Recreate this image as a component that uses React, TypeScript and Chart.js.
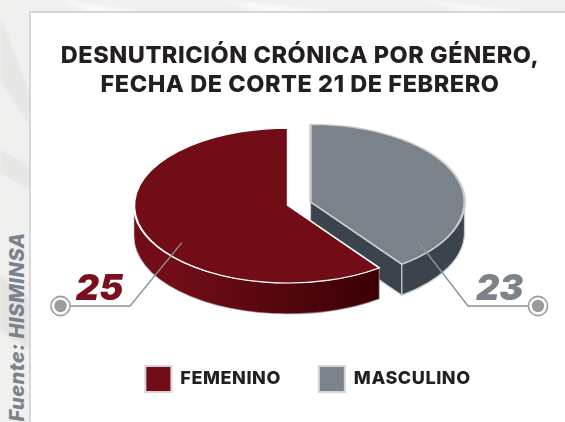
import React, { useEffect, useRef } from "react";
import { Chart, registerables } from "chart.js";

Chart.register(...registerables);

// Categories and the counts printed beside the slices.
const categories = ["FEMENINO", "MASCULINO"];
const printedCounts = [25, 23];
// The reference draws the slices at about 60/40 rather than 25/23, so the
// angles are read from the picture and kept apart from the printed counts.
const drawnShares = [60.1, 39.9];
const titleLines = ["DESNUTRICIÓN CRÓNICA POR GÉNERO,", "FECHA DE CORTE 21 DE FEBRERO"];
const sourceText = "Fuente: HISMINSA";

const faceColors = ["#720d18", "#7b838a"];
const edgeColors = ["#ffffff", "#c9cccd"];
const labelColors = ["#7a0f1d", "#7b838a"];
const explode = [0, 23.7];
const LEADER = "#8f9295";
const SQUASH = 0.503;
const DEPTH = 31;
const TRACKING = "0.55px";

const wallFill = (ctx: CanvasRenderingContext2D, i: number) => {
  if (i === 1) return "#3b444c";
  const g = ctx.createLinearGradient(170, 0, 380, 0);
  g.addColorStop(0, "#720d18");
  g.addColorStop(1, "#3a0004");
  return g;
};

const pie3d = {
  id: "pie3d",
  beforeLayout(chart: any) {
    chart.ctx.letterSpacing = TRACKING;
  },
  afterLayout(chart: any) {
    chart.legend.left += 20;
    chart.legend.right += 20;
    chart.legend.top += 16;
    chart.legend.bottom += 16;
    chart.titleBlock.left += 12;
    chart.titleBlock.right += 12;
  },
  beforeDraw(chart: any) {
    chart.ctx.letterSpacing = TRACKING;
  },
  beforeDatasetDraw(chart: any, args: any) {
    const ctx: CanvasRenderingContext2D = chart.ctx;
    const arcs = args.meta.data;
    const shift = (i: number) => {
      const a = arcs[i];
      const mid = (a.startAngle + a.endAngle) / 2;
      return { dx: Math.cos(mid) * explode[i], dy: Math.sin(mid) * explode[i] };
    };
    [1, 0].forEach((i) => {
      const a = arcs[i];
      const { dx, dy } = shift(i);
      const cx = a.x + dx;
      const cy = a.y + dy * SQUASH;
      const rx = a.outerRadius;
      const ry = rx * SQUASH;
      ctx.save();
      ctx.fillStyle = wallFill(ctx, i);
      ctx.strokeStyle = i === 1 ? "#c9cccd" : "rgba(190,190,190,0.55)";
      ctx.lineWidth = 1.2;
      const cutFace = (t: number) => {
        const x = cx + Math.cos(t) * rx;
        const y = cy + Math.sin(t) * ry;
        ctx.beginPath();
        ctx.moveTo(cx, cy);
        ctx.lineTo(x, y);
        ctx.lineTo(x, y + DEPTH);
        ctx.lineTo(cx, cy + DEPTH);
        ctx.closePath();
        ctx.fill();
        ctx.stroke();
      };
      if (Math.cos(a.endAngle) > 0.001) cutFace(a.endAngle);
      if (Math.cos(a.startAngle) < -0.001) cutFace(a.startAngle);
      [0, 2 * Math.PI].forEach((turn) => {
        const lo = Math.max(a.startAngle, turn);
        const hi = Math.min(a.endAngle, turn + Math.PI);
        if (hi <= lo) return;
        ctx.beginPath();
        ctx.ellipse(cx, cy, rx, ry, 0, lo, hi, false);
        ctx.ellipse(cx, cy + DEPTH, rx, ry, 0, hi, lo, true);
        ctx.closePath();
        ctx.fill();
        ctx.stroke();
      });
      ctx.restore();
    });
    // Top faces: each arc is drawn by the library under a flattening transform.
    [0, 1].forEach((i) => {
      const a = arcs[i];
      const { dx, dy } = shift(i);
      ctx.save();
      ctx.translate(a.x + dx, a.y + dy * SQUASH);
      ctx.scale(1, SQUASH);
      ctx.translate(-a.x, -a.y);
      a.draw(ctx);
      ctx.restore();
    });
    return false;
  },
  afterDraw(chart: any) {
    const ctx: CanvasRenderingContext2D = chart.ctx;
    const arcs = chart.getDatasetMeta(0).data;
    const sets = [
      { frac: 0.423, rad: 0.84, elbow: 130, end: 70, dot: 60.5, textX: 99.5 },
      { frac: 0.88, rad: 0.87, elbow: 468, end: 528, dot: 538, textX: 499.7 },
    ];
    const rowY = 306;
    sets.forEach((s, i) => {
      const a = arcs[i];
      const mid = (a.startAngle + a.endAngle) / 2;
      const t = a.startAngle + (a.endAngle - a.startAngle) * s.frac;
      const px = a.x + Math.cos(mid) * explode[i] + Math.cos(t) * a.outerRadius * s.rad;
      const py = a.y + (Math.sin(mid) * explode[i] + Math.sin(t) * a.outerRadius * s.rad) * SQUASH;
      ctx.save();
      ctx.strokeStyle = LEADER;
      ctx.lineWidth = 1.4;
      ctx.beginPath();
      ctx.moveTo(px, py);
      ctx.lineTo(s.elbow, rowY);
      ctx.lineTo(s.end, rowY);
      ctx.stroke();
      ctx.strokeStyle = "#9a9da0";
      ctx.lineWidth = 1.6;
      ctx.beginPath();
      ctx.arc(s.dot, rowY, 9.6, 0, Math.PI * 2);
      ctx.stroke();
      ctx.fillStyle = "#9a9da0";
      ctx.beginPath();
      ctx.arc(s.dot, rowY, 6.2, 0, Math.PI * 2);
      ctx.fill();
      ctx.fillStyle = labelColors[i];
      (ctx as any).letterSpacing = "0px";
      ctx.font = "italic 900 36px Inter, sans-serif";
      ctx.textAlign = "center";
      ctx.textBaseline = "alphabetic";
      ctx.fillText(String(printedCounts[i]), s.textX, 299.5);
      ctx.restore();
    });
  },
};

export default function App() {
  const ref = useRef<HTMLCanvasElement>(null);
  useEffect(() => {
    const chart = new Chart(ref.current!, {
      type: "pie",
      plugins: [pie3d],
      data: {
        labels: categories,
        datasets: [
          {
            data: drawnShares,
            backgroundColor: faceColors,
            borderColor: edgeColors,
            borderWidth: 2.4,
            borderAlign: "center",
            radius: 154,
            clip: false,
          } as any,
        ],
      },
      options: {
        animation: false,
        responsive: false,
        rotation: (360 * drawnShares[1]) / (drawnShares[0] + drawnShares[1]),
        layout: { padding: { left: 11, right: 0, top: 0, bottom: 36 } },
        plugins: {
          tooltip: { enabled: false },
          title: {
            display: true,
            text: titleLines,
            color: "#231f20",
            font: { family: "Inter, sans-serif", size: 23.5, weight: "800", lineHeight: 1.213 },
            padding: { top: 42, bottom: 0 },
          },
          legend: {
            position: "bottom",
            labels: {
              boxWidth: 26,
              boxHeight: 26,
              padding: 38,
              color: "#231f20",
              font: { family: "Inter, sans-serif", size: 18, weight: "800" },
              generateLabels: () =>
                categories.map((text, i) => ({
                  text,
                  index: i,
                  fillStyle: faceColors[i],
                  strokeStyle: "#d3d5d6",
                  lineWidth: 2,
                  fontColor: "#231f20",
                })),
            },
          },
        },
      },
    } as any);
    return () => chart.destroy();
  }, []);

  return (
    <div style={{ position: "fixed", left: 0, top: 0, width: 565, height: 422, overflow: "hidden", background: "#f0f0ef" }}>
      <svg width="565" height="422" style={{ position: "absolute", left: 0, top: 0 }}>
        <defs>
          <filter id="soft">
            <feGaussianBlur stdDeviation="1.5" />
          </filter>
        </defs>
        <g filter="url(#soft)">
          <path d="M0 15 L29 90 L29 125 L0 80 Z" fill="#e6e6e5" />
          <path d="M0 150 L29 165 L29 190 L0 172 Z" fill="#e6e6e5" />
          <path d="M0 275 L29 300 L29 350 L0 330 Z" fill="#e4e4e3" />
          <path d="M60 0 L140 11 L90 11 Z M220 0 L330 11 L260 11 Z M420 0 L520 11 L470 11 Z" fill="#f9f9f8" />
        </g>
      </svg>
      <div
        style={{
          position: "absolute",
          left: 29,
          top: 11,
          width: 545,
          height: 420,
          background: "#ffffff",
          border: "2.5px solid #d5d7d8",
          boxSizing: "border-box",
        }}
      />
      <div
        style={{
          position: "absolute",
          left: 16.5,
          top: 327,
          transform: "translate(-50%,-50%) rotate(-90deg)",
          whiteSpace: "nowrap",
          font: "italic 800 20px Inter, sans-serif",
          letterSpacing: "0.5px",
          color: "#7b838a",
        }}
      >
        {sourceText}
      </div>
      <canvas ref={ref} width={565} height={422} style={{ position: "absolute", left: 0, top: 0, display: "block" }} />
    </div>
  );
}
